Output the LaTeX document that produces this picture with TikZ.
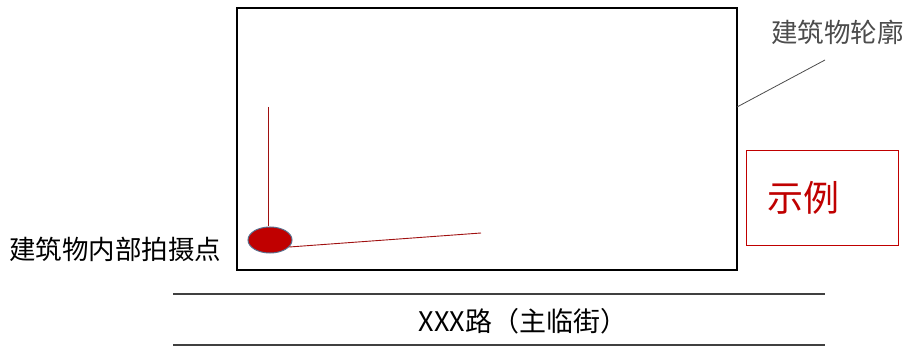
\documentclass[tikz,border=0pt]{standalone}
\usepackage{fontspec}
\usetikzlibrary{shapes.geometric}
\setmainfont{Noto Sans CJK SC}
\definecolor{dred}{HTML}{A01010}
\definecolor{lred}{HTML}{C00000}
\definecolor{edgeblue}{HTML}{5A6E8C}
\tikzset{
  lbl/.style={inner sep=0pt, anchor=base west},
  roadline/.style={draw=black!75, line width=1.2pt},
}
\begin{document}
\begin{tikzpicture}[x=1pt,y=-1pt]
\useasboundingbox[fill=white] (0,0) rectangle (906,350);
% building outline
\node[draw=black, line width=2.2pt, minimum width=500pt, minimum height=262pt, inner sep=0pt, anchor=north west] (bld) at (236,7) {};
% outline label
\node[lbl, text=black!70, font=\fontsize{26.5}{26.5}\selectfont] (olbl) at (771,43) {建筑物轮廓};
\coordinate (oend) at (825,60);
\coordinate (ostart) at (737,107);
\draw[black!70, line width=0.8pt] (ostart) -- (oend);
% legend box
\node[draw=lred, line width=1.2pt, minimum width=152pt, minimum height=95pt, inner sep=0pt, anchor=north west] (leg) at (746,150) {};
\node[lbl, text=lred, font=\fontsize{36}{36}\selectfont] (legtxt) at (767,212) {示例};
% shooting point
\node[ellipse, draw=edgeblue, fill=lred, line width=1pt, minimum width=44pt, minimum height=26pt, inner sep=0pt] (pt) at (270,240) {};
\coordinate (vtop) at (268,107);
\coordinate (hend) at (481,233);
\draw[dred, line width=0.9pt] (vtop) -- (pt.north -| vtop);
\draw[dred, line width=0.9pt] (pt.-20) -- (hend);
\node[lbl, text=black, font=\fontsize{26.5}{26.5}\selectfont] (ptlbl) at (9,259) {建筑物内部拍摄点};
% road
\coordinate (r1a) at (173,294);
\coordinate (r1b) at (825,294);
\coordinate (r2a) at (173,345);
\coordinate (r2b) at (825,345);
\draw[roadline] (r1a) -- (r1b);
\draw[roadline] (r2a) -- (r2b);
\node[text=black, font=\fontsize{27}{27}\selectfont, inner sep=0pt] (road) at (523,321) {XXX路（主临街）};
\end{tikzpicture}
\end{document}
